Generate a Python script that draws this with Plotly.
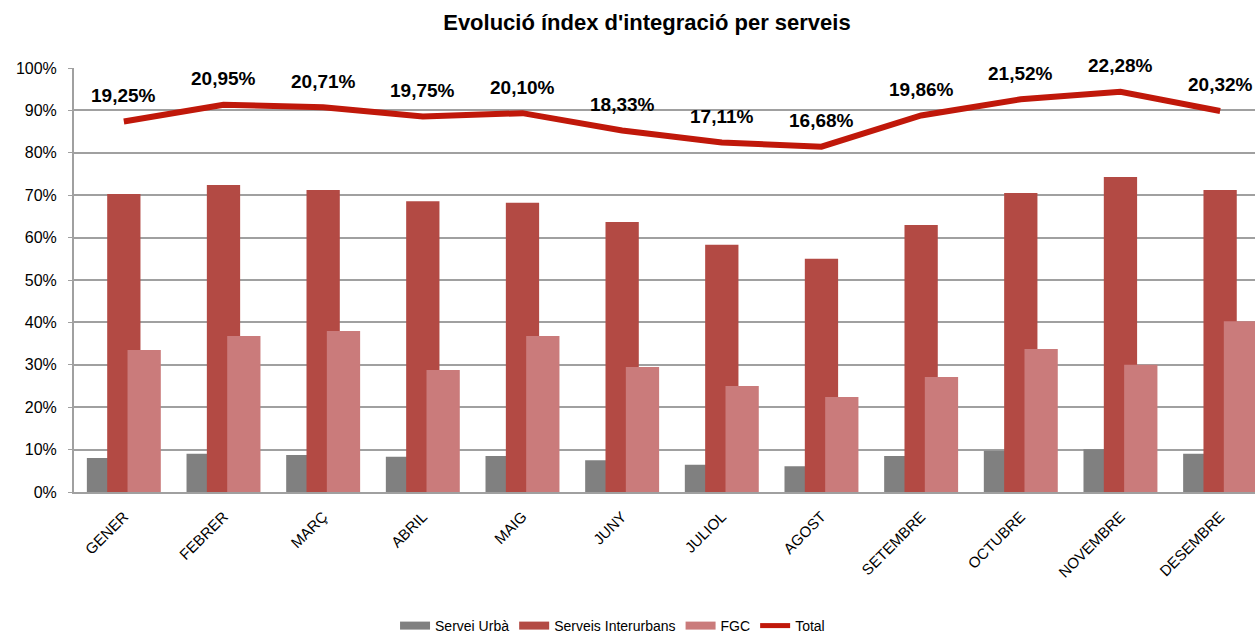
import plotly.graph_objects as go

months = ["GENER", "FEBRER", "MARÇ", "ABRIL", "MAIG", "JUNY", "JULIOL",
          "AGOST", "SETEMBRE", "OCTUBRE", "NOVEMBRE", "DESEMBRE"]
servei_urba = [8.0, 9.0, 8.7, 8.3, 8.5, 7.5, 6.4, 6.1, 8.5, 9.7, 10.1, 9.0]
serveis_interurbans = [70.3, 72.4, 71.2, 68.6, 68.2, 63.7, 58.3, 55.0, 63.0, 70.5, 74.3, 71.2]
fgc = [33.5, 36.8, 38.0, 28.8, 36.8, 29.5, 25.0, 22.4, 27.1, 33.7, 30.0, 40.3]
total = [19.25, 20.95, 20.71, 19.75, 20.10, 18.33, 17.11, 16.68, 19.86, 21.52, 22.28, 20.32]
y_ticks = list(range(0, 101, 10))
y_tick_text = [f"{v}%" for v in y_ticks]

FONT = "Liberation Sans, Arial, sans-serif"
BAR_W = 0.334
COLORS = {"Servei Urbà": "#808080", "Serveis Interurbans": "#B34A44", "FGC": "#CA7B7B"}
LINE_COLOR = "#C0180A"

fig = go.Figure()
for name, vals, off in [("Servei Urbà", servei_urba, -0.371),
                        ("Serveis Interurbans", serveis_interurbans, -0.167),
                        ("FGC", fgc, 0.037)]:
    fig.add_trace(go.Bar(x=months, y=vals, name=name, showlegend=False,
                         marker=dict(color=COLORS[name], line=dict(width=0)),
                         width=BAR_W, offset=off))
fig.add_trace(go.Scatter(x=months, y=total, name="Total", yaxis="y2",
                         mode="lines", showlegend=False,
                         line=dict(color=LINE_COLOR, width=6)))

# legend entries (wide rectangular swatches like the reference)
for name in COLORS:
    fig.add_trace(go.Scatter(x=[None], y=[None], name=name, mode="lines",
                             line=dict(color=COLORS[name], width=8)))
fig.add_trace(go.Scatter(x=[None], y=[None], name="Total", mode="lines",
                         line=dict(color=LINE_COLOR, width=5)))

for m, v in zip(months, total):
    fig.add_annotation(x=m, y=v, xref="x", yref="y2",
                       text=f"{v:.2f}%".replace(".", ","),
                       showarrow=False, yshift=26,
                       font=dict(family=FONT, size=19, color="black", weight="bold"))

fig.update_layout(
    width=1255, height=633,
    margin=dict(l=74, r=0, t=68, b=141),
    paper_bgcolor="white", plot_bgcolor="white",
    barmode="overlay",
    font=dict(family=FONT, color="black"),
    title=dict(text="Evolució índex d'integració per serveis",
               x=0.5155, xref="container", xanchor="center",
               y=1 - 22 / 633, yref="container", yanchor="middle",
               font=dict(family=FONT, size=22, color="black", weight="bold")),
    xaxis=dict(type="category", range=[-0.5, 11.35], tickangle=-45,
               tickfont=dict(family=FONT, size=15, color="black"),
               ticklabelstandoff=8,
               showgrid=False, showline=True, linecolor="#A0A0A0", linewidth=2,
               ticks="", automargin=False),
    yaxis=dict(range=[0, 100], tickmode="array", tickvals=y_ticks, ticktext=y_tick_text,
               tickfont=dict(family=FONT, size=16, color="black"),
               ticklabelstandoff=8,
               showgrid=True, gridcolor="#A0A0A0", gridwidth=1.5,
               showline=True, linecolor="#A0A0A0", linewidth=2,
               ticks="outside", ticklen=4, tickcolor="#A0A0A0",
               zeroline=False, automargin=False),
    yaxis2=dict(range=[-18.5, 24.7], overlaying="y", visible=False),
    legend=dict(orientation="h", x=0.456, xanchor="center",
                yref="container", y=(633 - 626) / 633, yanchor="middle",
                font=dict(family=FONT, size=14, color="black"),
                entrywidthmode="pixels",
                bgcolor="rgba(0,0,0,0)"),
    showlegend=True,
)

fig.write_html("out.html", config={"displayModeBar": False},
               post_script="document.body.style.margin='0';")
